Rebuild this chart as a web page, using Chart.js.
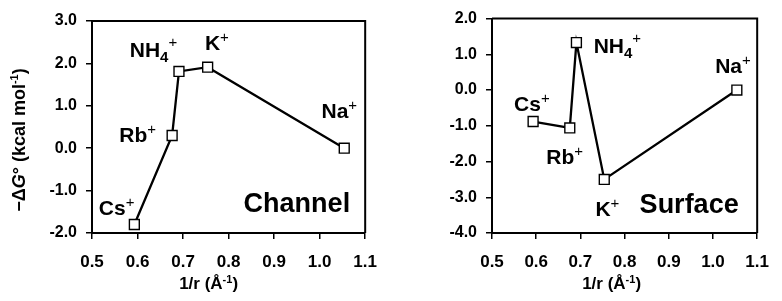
<!DOCTYPE html>
<html>
<head>
<meta charset="utf-8">
<script src="https://cdn.jsdelivr.net/npm/chart.js@4"></script>
<style>
  html, body { margin: 0; padding: 0; background: #fff; }
  #wrap { position: relative; width: 782px; height: 301px; overflow: hidden; }
  canvas { position: absolute; top: 0; }
</style>
</head>
<body>
<div id="wrap">
  <canvas id="channelChart" width="390" height="301" style="left:0"></canvas>
  <canvas id="surfaceChart" width="392" height="301" style="left:390px"></canvas>
</div>
<script>
// Dados
const ions = ['Cs', 'Rb', 'NH4', 'K', 'Na'];
const invRadius = [0.593, 0.676, 0.691, 0.754, 1.054];   // 1/r (Å-1)
const channelDG = [-1.8, 0.3, 1.81, 1.91, 0.0];          // -ΔG° canal
const surfaceDG = [-0.88, -1.06, 1.33, -2.5, 0.0];       // -ΔG° superfície
const xTicks = { min: 0.5, max: 1.1, step: 0.1 };
const channelY = { min: -2, max: 3, step: 1 };
const surfaceY = { min: -4, max: 2, step: 1 };

// onde os rótulos dos íons ficam (unidades dos eixos, canto esquerdo / linha de base)
const channelLabels = [[0.515, -1.58], [0.560, 0.14], [0.583, 2.14], [0.748, 2.31], [1.004, 0.71]];
const surfaceLabels = [[0.550, -0.58], [0.623, -2.06], [0.730, 1.03], [0.734, -3.53], [1.005, 0.47]];

const FONT = '"Liberation Sans", Arial, Helvetica, sans-serif';

Chart.defaults.font.family = FONT;
Chart.defaults.font.weight = 'bold';
Chart.defaults.color = '#000';

// desenha texto com sub/sobrescrito: partes = [texto, tamanho, deslocamento y, estilo, peso]
function richWidth(ctx, parts) {
  let w = 0;
  parts.forEach(p => {
    ctx.font = `${p[3] || ''} ${p[4] || 'bold'} ${p[1]}px ${FONT}`;
    w += ctx.measureText(p[0]).width;
  });
  return w;
}
function drawRich(ctx, parts, x, y, align) {
  let cx = align === 'center' ? x - richWidth(ctx, parts) / 2 : x;
  ctx.textBaseline = 'alphabetic';
  ctx.textAlign = 'left';
  parts.forEach(p => {
    ctx.font = `${p[3] || ''} ${p[4] || 'bold'} ${p[1]}px ${FONT}`;
    ctx.fillText(p[0], cx, y + p[2]);
    cx += ctx.measureText(p[0]).width;
  });
}
function ionParts(name) {
  if (name === 'NH4') return [['NH', 21, 0], ['4', 15, 5], ['+', 15, -10, '', 'normal']];
  return [[name, 21, 0], ['+', 15, -8, '', 'normal']];
}

function makeChart(id, values, yRange, labelPos, panelName, opts) {
  const annotate = {
    id: 'annotate',
    afterDraw(chart) {
      const ctx = chart.ctx;
      const a = chart.chartArea;
      const xs = chart.scales.x, ys = chart.scales.y;
      ctx.save();
      ctx.fillStyle = '#000';
      // moldura superior e direita
      ctx.strokeStyle = '#000';
      ctx.lineWidth = 2;
      ctx.beginPath();
      ctx.moveTo(a.left, a.top);
      ctx.lineTo(a.right, a.top);
      ctx.lineTo(a.right, a.bottom);
      ctx.stroke();
      // rótulos dos íons
      ions.forEach((ion, i) => {
        drawRich(ctx, ionParts(ion), xs.getPixelForValue(labelPos[i][0]), ys.getPixelForValue(labelPos[i][1]));
      });
      // nome do painel
      drawRich(ctx, [[panelName, 27, 0]], xs.getPixelForValue(opts.nameAt[0]), ys.getPixelForValue(opts.nameAt[1]));
      // título eixo x
      drawRich(ctx, [['1/r (Å', 17, 0], ['-1', 11, -6], [')', 17, 0]], (a.left + a.right) / 2 + opts.xTitleShift, 289, 'center');
      // título eixo y
      if (opts.yTitle) {
        ctx.translate(19, 140);
        ctx.rotate(-Math.PI / 2);
        drawRich(ctx, [['\u2212\u0394', 18, 0], ['G', 18, 0, 'italic'], ['\u00b0 (kcal mol', 18, 0], ['-1', 11, -7], [')', 18, 0]], 0, 6, 'center');
      }
      ctx.restore();
    }
  };

  return new Chart(document.getElementById(id), {
    type: 'scatter',
    data: {
      datasets: [{
        data: invRadius.map((x, i) => ({ x: x, y: values[i] })),
        showLine: true,
        borderColor: '#000',
        borderWidth: 2.3,
        pointStyle: 'rect',
        pointRadius: 7,
        pointBackgroundColor: '#fff',
        pointBorderColor: '#000',
        pointBorderWidth: 1.4
      }]
    },
    options: {
      responsive: false,
      animation: false,
      events: [],
      layout: { padding: { left: 0, right: opts.padRight, top: opts.padTop, bottom: 0 } },
      plugins: { legend: { display: false }, tooltip: { enabled: false } },
      scales: {
        x: {
          type: 'linear',
          min: xTicks.min,
          max: xTicks.max,
          afterFit: s => { s.height = 301 - 233; },
          ticks: {
            stepSize: xTicks.step,
            padding: 13,
            font: { size: 17, weight: 'bold' },
            color: '#000',
            maxRotation: 0,
            callback: v => v.toFixed(1)
          },
          grid: { drawOnChartArea: false, drawTicks: true, tickLength: 6, color: '#000', lineWidth: 1.5 },
          border: { display: true, color: '#000', width: 2 }
        },
        y: {
          min: yRange.min,
          max: yRange.max,
          afterFit: s => { s.width = opts.yWidth; },
          ticks: {
            stepSize: yRange.step,
            padding: 9,
            font: { size: 16, weight: 'bold' },
            color: '#000',
            callback: v => v.toFixed(1)
          },
          grid: { drawOnChartArea: false, drawTicks: true, tickLength: 6, color: '#000', lineWidth: 1.5 },
          border: { display: true, color: '#000', width: 2 }
        }
      }
    },
    plugins: [annotate]
  });
}

document.addEventListener('DOMContentLoaded', () => {
  makeChart('channelChart', channelDG, channelY, channelLabels, 'Channel',
    { yWidth: 92, padRight: 17, padTop: 21, nameAt: [0.833, -1.5], xTitleShift: -20, yTitle: true });
  makeChart('surfaceChart', surfaceDG, surfaceY, surfaceLabels, 'Surface',
    { yWidth: 102, padRight: 13, padTop: 16, nameAt: [0.834, -3.44], xTitleShift: -13, yTitle: false });
});
</script>
</body>
</html>
